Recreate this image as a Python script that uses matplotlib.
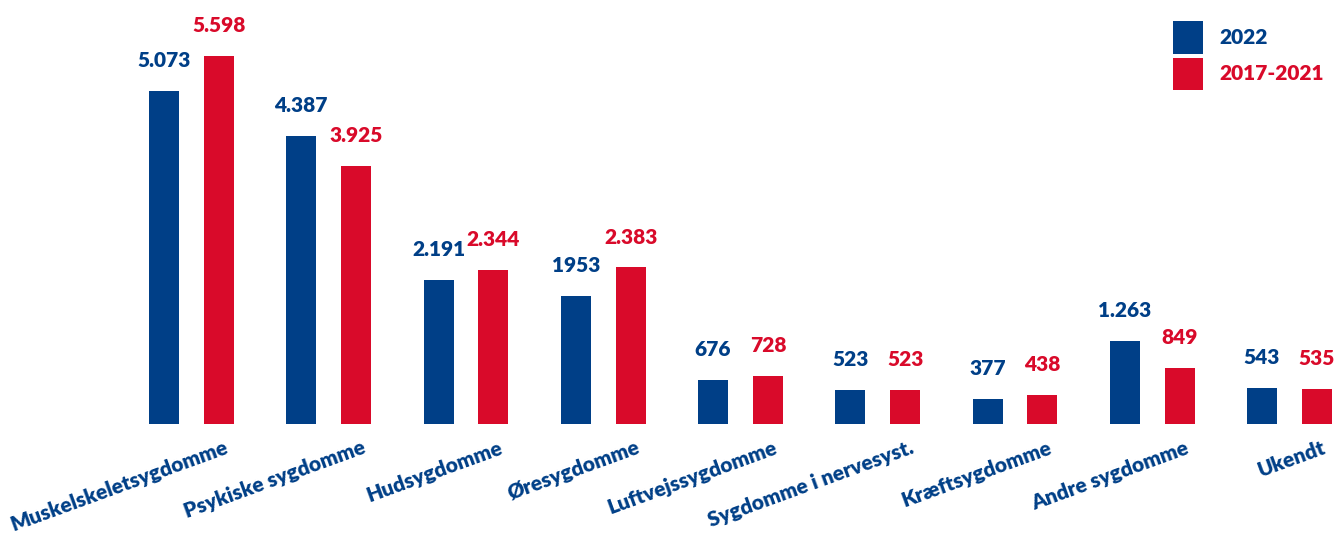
import matplotlib.pyplot as plt
import numpy as np

# data
categories = ['Muskelskeletsygdomme', 'Psykiske sygdomme', 'Hudsygdomme',
              'Øresygdomme', 'Luftvejssygdomme', 'Sygdomme i nervesyst.',
              'Kræftsygdomme', 'Andre sygdomme', 'Ukendt']
values_2022 = [5073, 4387, 2191, 1953, 676, 523, 377, 1263, 543]
values_1721 = [5598, 3925, 2344, 2383, 728, 523, 438, 849, 535]
labels_2022 = ['5.073', '4.387', '2.191', '1953', '676', '523', '377', '1.263', '543']
labels_1721 = ['5.598', '3.925', '2.344', '2.383', '728', '523', '438', '849', '535']
series_names = ['2022', '2017-2021']

BLUE = '#003f87'
RED = '#d90a2a'
FONT = 'Lato'
WEIGHT = 'heavy'

fig = plt.figure(figsize=(13.39, 5.33), dpi=100)
ax = fig.add_axes([0, 109 / 533, 1, 424 / 533])

x = np.arange(len(categories))
off = 0.2
w = 0.218

b1 = ax.bar(x - off, values_2022, w, color=BLUE, label=series_names[0])
b2 = ax.bar(x + off, values_1721, w, color=RED, label=series_names[1])

for bars, labs, col in [(b1, labels_2022, BLUE), (b2, labels_1721, RED)]:
    for rect, lab in zip(bars, labs):
        ax.annotate(lab, (rect.get_x() + rect.get_width() / 2, rect.get_height()),
                    xytext=(0, 15), textcoords='offset points',
                    ha='center', va='bottom', color=col,
                    fontsize=15, fontweight=WEIGHT, family=FONT)

ax.set_xlim(-191.5 / 137.25, (1339 - 191.5) / 137.25)
ax.set_ylim(0, 6450)
ax.set_xticks([])
ax.set_yticks([])
for s in ax.spines.values():
    s.set_visible(False)

# rotated category labels under each group
for i, cat in enumerate(categories):
    ax.annotate(cat, (i + 0.235, 0), xytext=(0, -10), textcoords='offset points',
                ha='right', va='top', rotation=20, rotation_mode='anchor',
                color=BLUE, fontsize=15, fontweight=WEIGHT, family=FONT,
                annotation_clip=False)

leg = ax.legend(loc='upper right', frameon=False,
                prop={'family': FONT, 'weight': WEIGHT, 'size': 15},
                handlelength=1.45, handleheight=2.0, handletextpad=0.75,
                labelspacing=0.2, labelcolor=[BLUE, RED], borderpad=0)
leg.set_bbox_to_anchor((1 - 5 / 1339, 1 - 11 / 533), transform=fig.transFigure)

fig.savefig('out.png', dpi=100)
